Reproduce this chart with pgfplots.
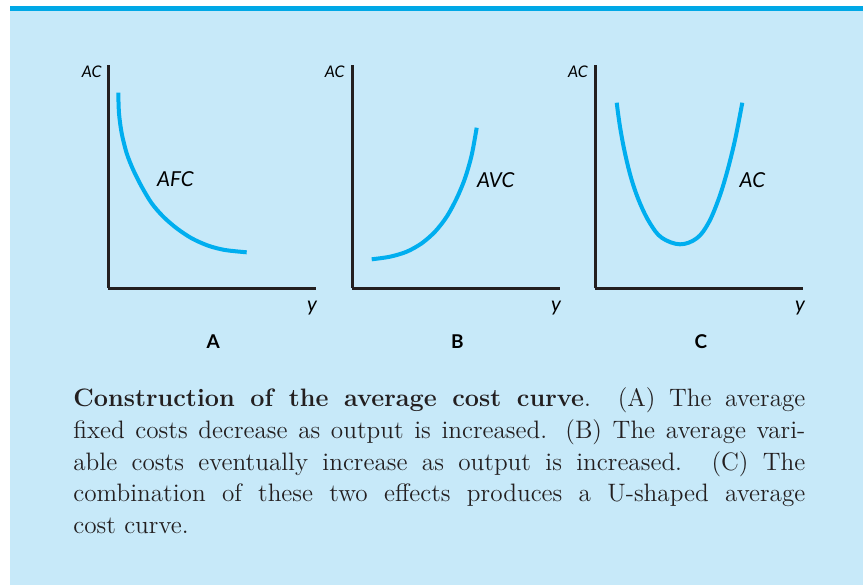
\documentclass[border=0pt]{standalone}
\usepackage{fontspec}
\usepackage{pgfplots}
\pgfplotsset{compat=1.18}
\newfontfamily\labfont{Lato}
\definecolor{bgblue}{HTML}{C7E9F9}
\definecolor{curvec}{HTML}{00AEEF}
\definecolor{stripc}{HTML}{00A8E6}
\definecolor{axisc}{HTML}{231F20}
\pgfplotsset{panel/.style={
    width=104pt, height=111.5pt, scale only axis,
    xmin=0, xmax=208, ymin=0, ymax=223,
    axis lines=left, axis line style={-, line width=1.5pt, color=axisc},
    ticks=none, clip=false, anchor=south west,
  }}
\newcommand{\aclab}{\labfont\itshape\fontsize{8}{9}\selectfont AC}
\newcommand{\curvelab}[1]{\labfont\itshape\fontsize{10.3}{11}\selectfont #1}
\newcommand{\panellab}[1]{\labfont\bfseries\fontsize{9.5}{10}\selectfont #1}
\begin{document}
\begin{tikzpicture}[x=0.5pt, y=-0.5pt]
\path (0,0) rectangle (863,585);
\fill[bgblue] (10,6) rectangle (863,585);
\fill[stripc] (10,6) rectangle (863,11);

% Panel A
\begin{axis}[panel, at={(54pt,-144pt)}]
  \addplot[curvec, line width=2pt, smooth] coordinates {
    (10.3,195.3) (11,174.7) (13.7,154.7) (18.7,134.7) (25.3,118) (33.7,101.3)
    (43.7,84.7) (55.3,71.3) (68.7,59.7) (83.7,49.7) (100.3,42.3) (117,38) (138.7,35.7)};
  \node[anchor=east, inner sep=0] at (axis cs:-6,216.5) {\aclab};
  \node[anchor=base west, inner sep=0] at (axis cs:48.7,101.3) {\curvelab{AFC}};
  \node[anchor=base, inner sep=0] at (axis cs:204,-23.7) {\curvelab{y}};
  \node[anchor=base, inner sep=0] at (axis cs:105.3,-60) {\panellab{A}};
\end{axis}

% Panel B
\begin{axis}[panel, at={(176pt,-144pt)}]
  \addplot[curvec, line width=2pt, smooth] coordinates {
    (19.7,28.7) (38,31.3) (54.7,36.3) (69.7,44.7) (83,56.3) (94.7,71.3)
    (104.7,89.7) (113,109.7) (119.7,133) (124.7,160.3)};
  \node[anchor=east, inner sep=0] at (axis cs:-7,216.5) {\aclab};
  \node[anchor=base west, inner sep=0] at (axis cs:124.7,100.7) {\curvelab{AVC}};
  \node[anchor=base, inner sep=0] at (axis cs:204,-23.7) {\curvelab{y}};
  \node[anchor=base, inner sep=0] at (axis cs:105.5,-60) {\panellab{B}};
\end{axis}

% Panel C
\begin{axis}[panel, at={(297.5pt,-144pt)}]
  \addplot[curvec, line width=2pt, smooth, tension=0.6] coordinates {
    (21.7,185.3) (25,161.3) (30,134.7) (36.7,108) (45,84.7) (55,64.7) (66.7,50.3)
    (85,43.7) (101.7,49.7) (113.3,64.7) (123.3,88) (131.7,114.7) (140,148) (147.3,185.3)};
  \node[anchor=east, inner sep=0] at (axis cs:-6.7,216.5) {\aclab};
  \node[anchor=base west, inner sep=0] at (axis cs:144.3,101) {\curvelab{AC}};
  \node[anchor=base, inner sep=0] at (axis cs:205,-23.7) {\curvelab{y}};
  \node[anchor=base, inner sep=0] at (axis cs:105.8,-60) {\panellab{C}};
\end{axis}

% caption
\begin{scope}[every node/.style={anchor=base west, inner sep=0, font=\fontsize{12.6}{15}\selectfont, text=axisc}]
  \node at (73,406.7) {\makebox[366pt][s]{\textbf{Construction of the average cost curve}. (A) The average}};
  \node at (73,438.3) {\makebox[366pt][s]{fixed costs decrease as output is increased. (B) The average vari-}};
  \node at (73,470) {\makebox[366pt][s]{able costs eventually increase as output is increased. (C) The}};
  \node at (73,501.7) {\makebox[366pt][s]{combination of these two effects produces a U-shaped average}};
  \node at (73,533) {cost curve.};
\end{scope}
\end{tikzpicture}
\end{document}
